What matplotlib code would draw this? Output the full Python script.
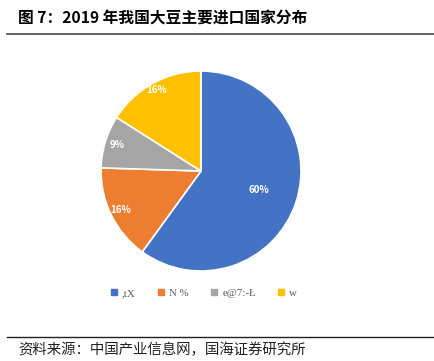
import matplotlib.pyplot as plt
import numpy as np

plt.rcParams['font.family'] = ['Noto Sans CJK SC', 'DejaVu Sans']

# Data (clockwise from 12 o'clock)
legend_labels = [',tX', 'N %', 'e@7:-Ł', 'w']
shares = [60, 15.5, 8.5, 16]
pct_labels = ['60%', '16%', '9%', '16%']
colors = ['#4472C4', '#ED7D31', '#A5A5A5', '#FFC000']
label_dist = [0.61, 0.89, 0.88, 0.93]

fig = plt.figure(figsize=(4.34, 3.61), dpi=100)

# Title and rules
fig.text(18 / 434, 1 - 19 / 361, '图 7：2019 年我国大豆主要进口国家分布',
         fontsize=11.3, fontweight='bold', va='center', ha='left')
fig.add_artist(plt.Line2D([7 / 434, 1], [1 - 34 / 361] * 2, color='#555555', lw=1.3))
fig.add_artist(plt.Line2D([7 / 434, 1], [1 - 337 / 361] * 2, color='#222222', lw=1.0))
fig.text(18 / 434, 1 - 350 / 361, '资料来源：中国产业信息网，国海证券研究所',
         fontsize=10.4, fontweight='light', va='center', ha='left', color='#222222')

# Pie
ax = fig.add_axes([100 / 434, 1 - 272 / 361, 202 / 434, 202 / 361])
wedges, _ = ax.pie(shares, colors=colors, startangle=90, counterclock=False,
                   wedgeprops=dict(edgecolor='white', linewidth=1.2))
ax.set_xlim(-1.01, 1.01)
ax.set_ylim(-1.01, 1.01)
ax.set_aspect('equal')
for w, txt, d in zip(wedges, pct_labels, label_dist):
    ang = np.deg2rad((w.theta1 + w.theta2) / 2)
    ax.text(d * np.cos(ang), d * np.sin(ang), txt, color='white', fontsize=7,
            fontweight='bold', ha='center', va='center')

# Legend
handles = [plt.Line2D([], [], marker='s', ls='', color=c, markersize=4.5) for c in colors]
fig.legend(handles, legend_labels, loc='center', bbox_to_anchor=(203 / 434, 1 - 293 / 361),
           ncol=4, frameon=False, handletextpad=0.3, columnspacing=1.9, handlelength=0.9,
           prop={'family': ['Liberation Serif'], 'size': 7.8}, labelcolor='#595959')

fig.savefig('out.png', dpi=100)
